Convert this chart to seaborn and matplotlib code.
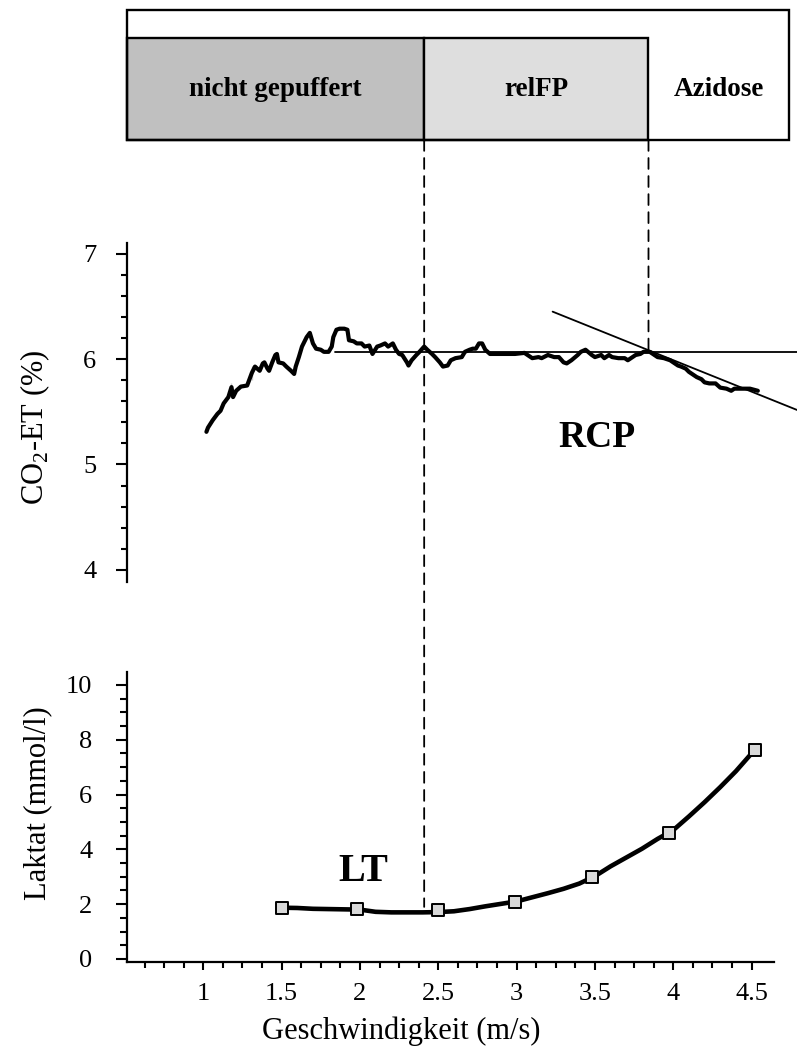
import numpy as np
import pandas as pd
import matplotlib
matplotlib.use('Agg')
import matplotlib.pyplot as plt
import seaborn as sns
from matplotlib.patches import Rectangle, ConnectionPatch
from matplotlib.ticker import MultipleLocator, FixedLocator

# ---------------- data ----------------
zone_labels = ['nicht gepuffert', 'relFP', 'Azidose']
zone_edges = [0.513, 2.41, 3.842, 4.736]   # speed (m/s)
zone_colors = ['#c0c0c0', '#dedede', 'white']

lt_speed = 2.41
rcp_speed = 3.842
lt_lactate = 1.9
plateau_level = 6.07
plateau_start = 1.84
tangent_speed = [3.23, 4.80]
tangent_co2 = [6.452, 5.512]

co2_speed = [1.02, 1.03, 1.06, 1.09, 1.11, 1.13, 1.16, 1.18, 1.18, 1.19, 1.21, 1.24, 1.28, 1.31, 1.31,
             1.33, 1.36, 1.38, 1.39, 1.41, 1.42, 1.44, 1.46, 1.47, 1.48, 1.51, 1.53, 1.56, 1.58, 1.59,
             1.61, 1.63, 1.66, 1.68, 1.70, 1.72, 1.75, 1.77, 1.80, 1.82, 1.83, 1.85, 1.87, 1.90, 1.92,
             1.93, 1.96, 1.98, 2.01, 2.03, 2.06, 2.08, 2.11, 2.13, 2.16, 2.18, 2.21, 2.23, 2.25, 2.27,
             2.30, 2.31, 2.33, 2.36, 2.38, 2.41, 2.43, 2.46, 2.48, 2.51, 2.53, 2.56, 2.58, 2.61, 2.65,
             2.67, 2.70, 2.72, 2.74, 2.76, 2.78, 2.80, 2.83, 2.91, 2.99, 3.05, 3.07, 3.10, 3.14, 3.16,
             3.20, 3.24, 3.27, 3.30, 3.32, 3.35, 3.39, 3.41, 3.44, 3.48, 3.50, 3.54, 3.56, 3.59, 3.61,
             3.65, 3.69, 3.71, 3.74, 3.76, 3.79, 3.81, 3.85, 3.88, 3.90, 3.94, 3.98, 4.00, 4.03, 4.05,
             4.08, 4.10, 4.13, 4.15, 4.18, 4.20, 4.23, 4.27, 4.30, 4.34, 4.37, 4.39, 4.44, 4.49, 4.54]
co2_values = [5.31, 5.35, 5.42, 5.48, 5.51, 5.58, 5.64, 5.70, 5.77, 5.64, 5.70, 5.74, 5.75, 5.80, 5.94,
              5.93, 5.89, 5.96, 5.97, 5.91, 5.89, 5.97, 6.04, 6.05, 5.97, 5.96, 5.93, 5.89, 5.86, 5.93,
              6.02, 6.12, 6.21, 6.25, 6.15, 6.10, 6.09, 6.07, 6.07, 6.12, 6.21, 6.28, 6.29, 6.29, 6.28,
              6.18, 6.17, 6.15, 6.15, 6.12, 6.13, 6.05, 6.12, 6.13, 6.15, 6.12, 6.15, 6.09, 6.05, 6.04,
              5.97, 5.94, 5.99, 6.04, 6.07, 6.12, 6.09, 6.05, 6.02, 5.97, 5.93, 5.94, 5.99, 6.01, 6.02,
              6.07, 6.09, 6.10, 6.10, 6.15, 6.15, 6.09, 6.05, 6.05, 6.05, 6.06, 6.04, 6.01, 6.02, 6.01,
              6.04, 6.02, 6.02, 5.97, 5.96, 5.99, 6.04, 6.07, 6.09, 6.04, 6.02, 6.04, 6.01, 6.04, 6.02,
              6.01, 6.01, 5.99, 6.02, 6.04, 6.05, 6.07, 6.07, 6.04, 6.02, 6.01, 5.99, 5.97, 5.94, 5.93,
              5.91, 5.88, 5.85, 5.83, 5.81, 5.78, 5.77, 5.77, 5.73, 5.72, 5.70, 5.72, 5.72, 5.72, 5.70]

lac_fit_speed = [1.50, 1.60, 1.70, 1.80, 1.90, 2.00, 2.10, 2.20, 2.30, 2.40, 2.50, 2.60, 2.70, 2.80,
                 2.90, 3.00, 3.10, 3.20, 3.30, 3.40, 3.50, 3.60, 3.70, 3.80, 3.90, 4.00, 4.10, 4.20,
                 4.30, 4.40, 4.50, 4.52]
lac_fit_values = [1.87, 1.86, 1.83, 1.82, 1.81, 1.80, 1.72, 1.70, 1.70, 1.70, 1.71, 1.74, 1.82, 1.92,
                  2.01, 2.10, 2.25, 2.40, 2.56, 2.75, 3.02, 3.38, 3.70, 4.02, 4.38, 4.70, 5.20, 5.72,
                  6.27, 6.85, 7.50, 7.60]
lac_speed = [1.50, 1.98, 2.50, 2.99, 3.48, 3.97, 4.52]
lac_values = [1.87, 1.82, 1.79, 2.09, 3.00, 4.61, 7.63]

x_ticks = [1, 1.5, 2, 2.5, 3, 3.5, 4, 4.5]
x_tick_labels = ['1', '1.5', '2', '2.5', '3', '3.5', '4', '4.5']
co2_ticks = [4, 5, 6, 7]
lac_ticks = [0, 2, 4, 6, 8, 10]

# ---------------- style ----------------
sns.set_theme(style='ticks')
plt.rcParams['font.family'] = ['Liberation Serif', 'DejaVu Serif']
plt.rcParams['mathtext.fontset'] = 'custom'
plt.rcParams['mathtext.rm'] = 'Liberation Serif'
plt.rcParams['axes.edgecolor'] = 'black'
plt.rcParams['xtick.color'] = 'black'
plt.rcParams['ytick.color'] = 'black'
plt.rcParams['text.color'] = 'black'
plt.rcParams['axes.labelcolor'] = 'black'

W, H = 797, 1054
fig = plt.figure(figsize=(W / 100, H / 100), dpi=100)


def rect(l, t, r, b):
    return [l / W, 1 - b / H, (r - l) / W, (b - t) / H]


XLIM = (0.513, 4.79)
ax_box = fig.add_axes(rect(127, 10, 797, 140))
ax_co2 = fig.add_axes(rect(127, 242.7, 797, 581.7))
ax_lac = fig.add_axes(rect(127, 672, 797, 961.7))

# ---------------- zone box ----------------
ax_box.set_xlim(*XLIM)
ax_box.set_ylim(0, 1)
ax_box.axis('off')
row_top = 0.782
ax_box.add_patch(Rectangle((zone_edges[0], 0), zone_edges[-1] - zone_edges[0], 1,
                           fill=False, ec='black', lw=1.7, clip_on=False, zorder=3))
for i, (lab, col) in enumerate(zip(zone_labels, zone_colors)):
    x0, x1 = zone_edges[i], zone_edges[i + 1]
    if col != 'white':
        ax_box.add_patch(Rectangle((x0, 0), x1 - x0, row_top, fc=col, ec='black',
                                   lw=1.7, clip_on=False, zorder=2))
    ax_box.text((x0 + x1) / 2, row_top / 2, lab, ha='center', va='center',
                fontsize=19.5, fontweight='bold', zorder=4)

# ---------------- CO2 panel ----------------
df_co2 = pd.DataFrame({'speed': co2_speed, 'co2': co2_values})
sns.lineplot(data=df_co2, x='speed', y='co2', sort=False, color='black', lw=3.0,
             ax=ax_co2, zorder=3)
ax_co2.plot([plateau_start, XLIM[1] + 0.1], [plateau_level, plateau_level], color='black',
            lw=1.3, clip_on=True)
ax_co2.plot(tangent_speed, tangent_co2, color='black', lw=1.3)
ax_co2.set_xlim(*XLIM)
ax_co2.set_ylim(3.886, 7.107)
for s in ['top', 'right', 'bottom']:
    ax_co2.spines[s].set_visible(False)
ax_co2.spines['left'].set_linewidth(1.6)
ax_co2.set_xticks([])
ax_co2.yaxis.set_major_locator(FixedLocator(co2_ticks))
ax_co2.yaxis.set_minor_locator(MultipleLocator(0.2))
ax_co2.tick_params(axis='y', which='major', length=8, width=1.5, labelsize=19, pad=14, left=True)
ax_co2.tick_params(axis='y', which='minor', length=4.5, width=1.5, left=True)
ax_co2.set_xlabel('')
ax_co2.set_ylabel(r'CO$_\mathregular{2}$-ET (%)', fontsize=22)
ax_co2.yaxis.set_label_coords(-0.112, 0.455)
ax_co2.text(3.516, 5.253, 'RCP', ha='center', va='center', fontsize=27, fontweight='bold')

# ---------------- lactate panel ----------------
df_fit = pd.DataFrame({'speed': lac_fit_speed, 'lactate': lac_fit_values})
df_pts = pd.DataFrame({'speed': lac_speed, 'lactate': lac_values})
sns.lineplot(data=df_fit, x='speed', y='lactate', color='black', lw=3.3, ax=ax_lac, zorder=2)
sns.scatterplot(data=df_pts, x='speed', y='lactate', marker='s', s=85, color='#d9d9d9',
                edgecolor='black', linewidth=1.4, ax=ax_lac, zorder=4)
ax_lac.set_xlim(*XLIM)
ax_lac.set_ylim(-0.1, 10.47)
ax_lac.spines['top'].set_visible(False)
ax_lac.spines['right'].set_visible(False)
ax_lac.spines['left'].set_linewidth(1.6)
ax_lac.spines['bottom'].set_linewidth(1.6)
ax_lac.spines['bottom'].set_bounds(XLIM[0], 4.64)
ax_lac.xaxis.set_major_locator(FixedLocator(x_ticks))
ax_lac.set_xticklabels(x_tick_labels)
ax_lac.xaxis.set_minor_locator(FixedLocator(list(np.arange(0.625, 4.51, 0.125))))
ax_lac.yaxis.set_major_locator(FixedLocator(lac_ticks))
ax_lac.yaxis.set_minor_locator(MultipleLocator(0.5))
ax_lac.tick_params(axis='y', which='major', length=8, width=1.5, labelsize=19, pad=17, left=True)
ax_lac.tick_params(axis='y', which='minor', length=5, width=1.5, left=True)
ax_lac.tick_params(axis='x', which='major', length=6, width=1.5, labelsize=19, pad=9, bottom=True)
ax_lac.tick_params(axis='x', which='minor', length=4, width=1.5, bottom=True)
ax_lac.set_ylabel('Laktat (mmol/l)', fontsize=22)
ax_lac.yaxis.set_label_coords(-0.112, 0.548)
ax_lac.set_xlabel('Geschwindigkeit (m/s)', fontsize=22)
ax_lac.xaxis.set_label_coords(0.409, -0.188)
ax_lac.text(2.02, 3.18, 'LT', ha='center', va='center', fontsize=29, fontweight='bold')

# ---------------- threshold dashed lines ----------------
for (x, ax_end, y_end) in [(lt_speed, ax_lac, lt_lactate), (rcp_speed, ax_co2, plateau_level)]:
    con = ConnectionPatch(xyA=(x, 0), coordsA=ax_box.transData,
                          xyB=(x, y_end), coordsB=ax_end.transData,
                          color='black', lw=1.3, linestyle=(0, (6, 4)), zorder=1)
    fig.add_artist(con)

fig.savefig('out.png', dpi=100)
